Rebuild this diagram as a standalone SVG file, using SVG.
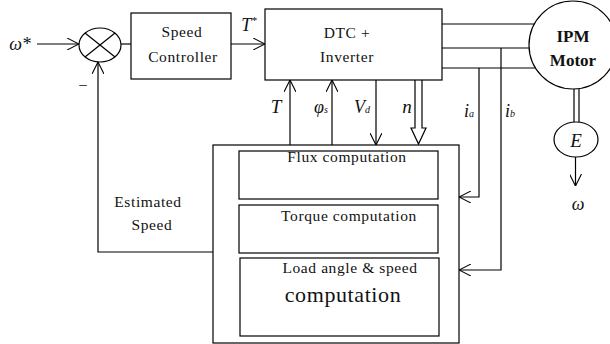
<svg xmlns="http://www.w3.org/2000/svg" width="610" height="344" viewBox="0 0 610 344">
<defs>
<style>
.b{fill:#fff;stroke:#000;stroke-width:1.2}
.l{fill:none;stroke:#000;stroke-width:1.2}
text{font-family:'Liberation Serif','DejaVu Serif',serif;fill:#111;text-anchor:middle}
.r{font-size:15.5px;letter-spacing:0.6px}
.i{font-style:italic}
</style>
<marker id="a" viewBox="0 0 12 12" refX="12" refY="6" markerWidth="12" markerHeight="12" markerUnits="userSpaceOnUse" orient="auto">
<path d="M0,0 L12,6 L0,12" fill="none" stroke="#000" stroke-width="1.1"/>
</marker>
</defs>
<g id="connectors">
<line class="l" x1="37" y1="44" x2="79" y2="44" marker-end="url(#a)"/>
<line class="l" x1="121" y1="44" x2="131" y2="44"/>
<line class="l" x1="231" y1="44" x2="265" y2="44" marker-end="url(#a)"/>
<polyline class="l" points="213,252 98,252 98,62" marker-end="url(#a)"/>
<line class="l" x1="290" y1="145" x2="290" y2="80" marker-end="url(#a)"/>
<line class="l" x1="332" y1="145" x2="332" y2="80" marker-end="url(#a)"/>
<line class="l" x1="376" y1="80" x2="376" y2="145" marker-end="url(#a)"/>
<path class="l" d="M415,80 V128 H411 L418.5,144 L426,128 H422 V80"/>
<line class="l" x1="442" y1="24" x2="534" y2="24"/>
<line class="l" x1="442" y1="48" x2="529" y2="48"/>
<line class="l" x1="442" y1="68" x2="535" y2="68"/>
<polyline class="l" points="479,68 479,197 459,197" marker-end="url(#a)"/>
<polyline class="l" points="501,48 501,270 459,270" marker-end="url(#a)"/>
<line class="l" x1="574" y1="89" x2="574" y2="122"/>
<line class="l" x1="579" y1="89" x2="579" y2="122"/>
<line class="l" x1="575.5" y1="157" x2="575.5" y2="186" marker-end="url(#a)"/>
</g>
<g id="sum">
<ellipse class="b" cx="100" cy="45" rx="21" ry="17"/>
<line class="l" x1="85" y1="33" x2="115" y2="57"/>
<line class="l" x1="85" y1="57" x2="115" y2="33"/>
</g>
<g id="speed-controller">
<rect class="b" x="131" y="13" width="100" height="66"/>
<text class="r" x="182" y="37">Speed</text>
<text class="r" x="183" y="62">Controller</text>
</g>
<g id="dtc">
<rect class="b" x="265" y="9" width="177" height="71"/>
<text class="r" x="347" y="38">DTC +</text>
<text class="r" x="347" y="62">Inverter</text>
</g>
<g id="motor">
<circle class="b" cx="573" cy="45" r="44"/>
<text x="573" y="42" font-size="17" font-weight="bold">IPM</text>
<text x="573" y="66" font-size="17" font-weight="bold">Motor</text>
</g>
<g id="encoder">
<ellipse class="b" cx="576" cy="139.5" rx="22" ry="17.5"/>
<text class="i" x="576" y="147" font-size="19">E</text>
</g>
<g id="estimator">
<rect class="b" x="213" y="145" width="246" height="198"/>
<rect class="b" x="239" y="151" width="199" height="48"/>
<text class="r" x="347" y="162">Flux computation</text>
<rect class="b" x="239" y="205" width="199" height="48"/>
<text class="r" x="349" y="221">Torque computation</text>
<rect class="b" x="240" y="258" width="199" height="78"/>
<text class="r" x="350" y="273">Load angle &amp; speed</text>
<text x="343" y="302" font-size="22" letter-spacing="0.6">computation</text>
</g>
<g id="labels">
<text class="i" x="20" y="50" font-size="18">ω*</text>
<text x="83" y="89" font-size="15">–</text>
<text class="i" x="249" y="31" font-size="18">T<tspan font-size="11" dy="-7">*</tspan></text>
<text class="r" x="148" y="207">Estimated</text>
<text class="r" x="152" y="230">Speed</text>
<text class="i" x="276" y="113" font-size="19">T</text>
<text class="i" x="321" y="113" font-size="18">φ<tspan font-size="10">s</tspan></text>
<text class="i" x="362" y="113" font-size="18">V<tspan font-size="10">d</tspan></text>
<text class="i" x="407" y="113" font-size="19">n</text>
<text class="i" x="469" y="117" font-size="18">i<tspan font-size="10">a</tspan></text>
<text class="i" x="510" y="117" font-size="18">i<tspan font-size="10">b</tspan></text>
<text class="i" x="578" y="210" font-size="18">ω</text>
</g>
</svg>
